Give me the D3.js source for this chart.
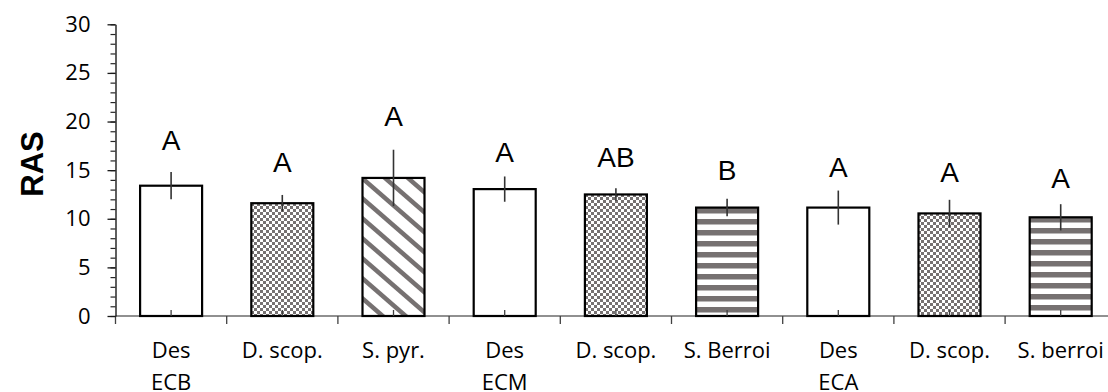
<!DOCTYPE html>
<html>
<head>
<meta charset="utf-8">
<script src="https://cdn.jsdelivr.net/npm/d3@7/dist/d3.min.js"></script>
<style>
  body { margin: 0; background: #fff; }
  svg { display: block; }
</style>
</head>
<body>
<script>
// data
var categories = [["Des", "ECB"], ["D. scop."], ["S. pyr."], ["Des", "ECM"], ["D. scop."], ["S. Berroi"], ["Des", "ECA"], ["D. scop."], ["S. berroi"]];
var values = [13.4, 11.6, 14.2, 13.05, 12.5, 11.15, 11.15, 10.55, 10.15];
var errors = [1.4, 0.85, 2.9, 1.3, 0.65, 0.9, 1.75, 1.4, 1.35];
var letters = ["A", "A", "A", "A", "AB", "B", "A", "A", "A"];
var letterAt = [17.1, 14.8, 19.5, 15.85, 15.35, 13.95, 14.3, 13.75, 13.2]; // baseline, in RAS units
var yTicks = [0, 5, 10, 15, 20, 25, 30];

var width = 1108, height = 392,
    plotLeft = 115.5, plotBottom = 316, plotTop = 24.3,
    gray = "#767171";

var keys = categories.map((c, i) => i);

var x = d3.scaleBand()
    .domain(keys)
    .range([plotLeft, plotLeft + 111.2 * categories.length])
    .paddingInner(0.4424)
    .paddingOuter(0.2212);

var y = d3.scaleLinear().domain([0, 30]).range([plotBottom, plotTop]);

var svg = d3.select("body").append("svg")
    .attr("width", width)
    .attr("height", height);

var defs = svg.append("defs");

const fillType = label => {
    var s = label.join(" ");
    if (s.startsWith("Des")) return "none";
    if (s.startsWith("D. scop")) return "checker";
    if (s.startsWith("S. pyr")) return "diag";
    return "stripes";
};

// one pattern per bar so each one starts at its bar's top
keys.forEach(i => {
    var t = fillType(categories[i]), p,
        px = Math.round(x(i)), py = Math.round(y(values[i]));
    if (t == "checker") {
        p = defs.append("pattern").attr("id", "p" + i)
            .attr("patternUnits", "userSpaceOnUse")
            .attr("x", px).attr("y", py)
            .attr("width", 6).attr("height", 6);
        p.append("rect").attr("width", 6).attr("height", 6).attr("fill", "#fff");
        p.append("rect").attr("width", 3).attr("height", 3).attr("fill", gray);
        p.append("rect").attr("x", 3).attr("y", 3).attr("width", 3).attr("height", 3).attr("fill", gray);
    } else if (t == "stripes") {
        p = defs.append("pattern").attr("id", "p" + i)
            .attr("patternUnits", "userSpaceOnUse")
            .attr("x", px).attr("y", py)
            .attr("width", 12).attr("height", 11);
        p.append("rect").attr("width", 12).attr("height", 11).attr("fill", "#fff");
        p.append("rect").attr("width", 12).attr("height", 5.5).attr("fill", gray);
    } else if (t == "diag") {
        var w = 23, h = 20;
        p = defs.append("pattern").attr("id", "p" + i)
            .attr("patternUnits", "userSpaceOnUse")
            .attr("x", px).attr("y", py)
            .attr("width", w).attr("height", h);
        p.append("rect").attr("width", w).attr("height", h).attr("fill", "#fff");
        [-1, 0, 1].forEach(k => {
            p.append("line")
                .attr("x1", -2).attr("y1", -2 * h / w + k * h)
                .attr("x2", w + 2).attr("y2", (w + 2) * h / w + k * h)
                .attr("stroke", gray).attr("stroke-width", 4.5);
        });
    }
});

// x axis line
svg.append("line")
    .attr("x1", plotLeft).attr("x2", width)
    .attr("y1", plotBottom).attr("y2", plotBottom)
    .attr("stroke", "#6b6b6b").attr("stroke-width", 1.3);

// boundary ticks below the axis
var step = x.step();
svg.append("g").selectAll("line")
    .data(d3.range(categories.length + 1))
    .enter().append("line")
    .attr("x1", d => plotLeft + d * step).attr("x2", d => plotLeft + d * step)
    .attr("y1", plotBottom).attr("y2", plotBottom + 8)
    .attr("stroke", "#404040").attr("stroke-width", 1.3);

// bars
svg.append("g").selectAll("rect")
    .data(keys)
    .enter().append("rect")
    .attr("x", d => x(d))
    .attr("y", d => y(values[d]))
    .attr("width", x.bandwidth())
    .attr("height", d => y(0) - y(values[d]))
    .attr("fill", d => fillType(categories[d]) == "none" ? "#fff" : "url(#p" + d + ")")
    .attr("stroke", "#000")
    .attr("stroke-width", 2.2);

// small center marks at the base
svg.append("g")
    .attr("transform", "translate(0," + plotBottom + ")")
    .call(d3.axisBottom(x).tickSize(-6).tickSizeOuter(0).tickFormat(""))
    .call(g => g.select(".domain").remove())
    .selectAll("line").attr("stroke", "#404040").attr("stroke-width", 1.3);

// error bars
svg.append("g").selectAll("line")
    .data(keys)
    .enter().append("line")
    .attr("x1", d => x(d) + x.bandwidth() / 2)
    .attr("x2", d => x(d) + x.bandwidth() / 2)
    .attr("y1", d => y(values[d] + errors[d]))
    .attr("y2", d => y(values[d] - errors[d]))
    .attr("stroke", "#333").attr("stroke-width", 1.6);

// significance letters
svg.append("g").selectAll("text")
    .data(keys)
    .enter().append("text")
    .attr("x", d => x(d) + x.bandwidth() / 2)
    .attr("y", d => y(letterAt[d]))
    .attr("text-anchor", "middle")
    .style("font-family", "'Liberation Sans', Arial, sans-serif")
    .style("font-size", "28px")
    .text(d => letters[d]);

// y axis: minor then major ticks
svg.append("g")
    .attr("transform", "translate(" + plotLeft + ",0)")
    .call(d3.axisLeft(y).tickValues(d3.range(0, 31, 1)).tickSize(5).tickSizeOuter(0).tickFormat(""))
    .call(g => g.select(".domain").remove())
    .selectAll("line").attr("stroke", "#262626").attr("stroke-width", 1.2);

var yAxis = svg.append("g")
    .attr("transform", "translate(" + plotLeft + ",0)")
    .call(d3.axisLeft(y).tickValues(yTicks).tickSize(8).tickSizeOuter(0).tickPadding(17).tickFormat(d3.format("d")));
yAxis.select(".domain").attr("stroke", "#1a1a1a").attr("stroke-width", 1.4);
yAxis.selectAll(".tick line").attr("stroke", "#1a1a1a").attr("stroke-width", 1.3);
yAxis.selectAll(".tick text")
    .attr("fill", "#000")
    .style("font-family", "'Open Sans', sans-serif")
    .style("font-size", "22px");

// y axis title
svg.append("text")
    .attr("transform", "translate(43,164) rotate(-90)")
    .attr("text-anchor", "middle")
    .style("font-family", "'Liberation Sans', Arial, sans-serif")
    .style("font-weight", "bold")
    .style("font-size", "31px")
    .text("RAS");

// category labels
var cat = svg.append("g").selectAll("text")
    .data(keys)
    .enter().append("text")
    .attr("text-anchor", "middle")
    .style("font-family", "'Open Sans', sans-serif")
    .style("font-size", "22px");

cat.selectAll("tspan")
    .data(d => categories[d].map(t => ({ t: t, c: x(d) + x.bandwidth() / 2 })))
    .enter().append("tspan")
    .attr("x", d => d.c)
    .attr("y", (d, j) => 358 + j * 31.5)
    .text(d => d.t);
</script>
</body>
</html>
